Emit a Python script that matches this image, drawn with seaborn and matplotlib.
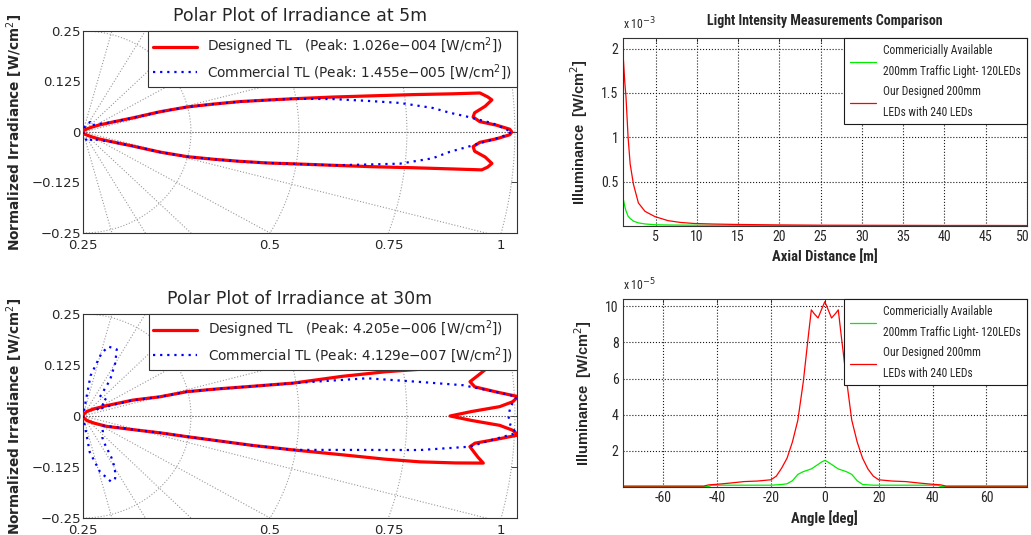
import numpy as np
import pandas as pd
import matplotlib
matplotlib.use('Agg')
import matplotlib.pyplot as plt
import matplotlib.transforms as mtransforms
import seaborn as sns

# --- polar patterns: angle [deg], normalized irradiance ---
ang_5m_designed = [-90, -60, -40, -30, -25, -20, -16.8, -15.6, -14.2, -12.6, -11.3, -10.2, -9.2,
                   -8.1, -7.3, -6.6, -6.1, -5.8, -5.3, -4.7, -3.8, -3.0, -2.3, -1.6, -1.0, -0.4,
                   0, 0.4, 1.0, 1.6, 2.35, 3.0, 3.9, 4.8, 5.3, 6.0, 6.3, 6.9, 7.6, 8.5, 9.6, 10.5,
                   11.7, 12.9, 14.4, 15.7, 16.8, 20, 25, 30, 40, 60, 90]
r_5m_designed = [0, 0.005, 0.012, 0.025, 0.04, 0.07, 0.121, 0.185, 0.249, 0.309, 0.371, 0.433, 0.493,
                 0.585, 0.677, 0.770, 0.861, 0.928, 0.941, 0.950, 0.933, 0.908, 0.904, 0.919, 0.958, 0.988,
                 0.993, 0.988, 0.958, 0.919, 0.904, 0.908, 0.933, 0.950, 0.941, 0.924, 0.861, 0.770, 0.677,
                 0.585, 0.493, 0.433, 0.371, 0.309, 0.249, 0.185, 0.121, 0.07, 0.04, 0.025, 0.012, 0.005, 0]

ang_5m_commercial = [-90, -70, -55, -40, -30, -22, -17, -15.6, -14.2, -12.6, -11.3, -10.2, -9.2, -8.1,
                     -7.0, -6.1, -4.6, -3.3, -2.4, -1.5, -0.7, 0, 1.3, 2.45, 3.2, 4.2, 5.6, 6.7, 8.0,
                     9.6, 10.5, 11.7, 12.9, 14.4, 15.7, 17, 22, 30, 40, 55, 70, 90]
r_5m_commercial = [0, 0.02, 0.03, 0.025, 0.04, 0.06, 0.115, 0.185, 0.249, 0.309, 0.371, 0.433, 0.493, 0.585,
                   0.661, 0.738, 0.812, 0.851, 0.890, 0.930, 0.970, 0.993, 0.949, 0.890, 0.851, 0.812, 0.737,
                   0.661, 0.585, 0.493, 0.433, 0.371, 0.309, 0.249, 0.185, 0.115, 0.06, 0.04, 0.025, 0.03,
                   0.02, 0]

ang_30m_designed = [-90, -70, -50, -35, -25, -16, -13, -11.9, -11.0, -10.4, -9.7, -9.0, -8.6, -8.2, -7.6,
                    -7.1, -6.3, -4.8, -4.2, -3.4, -2.65, -2.0, -1.36, -0.7,
                    0, 0.7, 1.36, 2.0, 2.7, 3.5, 4.5, 5.36, 6.2, 6.9, 7.5, 8.25, 8.8, 9.2, 9.4, 10.5, 12.0,
                    13.9, 14.8, 18.6, 25, 35, 50, 70, 90]
r_30m_designed = [0, 0.005, 0.015, 0.03, 0.06, 0.122, 0.184, 0.246, 0.32, 0.40, 0.493, 0.608, 0.708, 0.788,
                  0.87, 0.934, 0.92, 0.899, 0.91, 0.96, 1.009, 0.995, 0.965, 0.90,
                  0.850, 0.90, 0.965, 0.995, 1.009, 0.96, 0.910, 0.90, 0.92, 0.937, 0.908, 0.808, 0.708,
                  0.608, 0.493, 0.40, 0.32, 0.248, 0.184, 0.122, 0.06, 0.03, 0.015, 0.005, 0]

ang_30m_commercial = [-90, -80, -74, -68, -64, -60, -57, -53, -50, -40, -28, -20, -16, -13, -11.9, -11.0,
                      -10.4, -9.7, -7.2, -6.1, -4.8, -3.5, -2.4, -1.3,
                      0, 1.3, 2.7, 3.5, 4.9, 6.1, 8.0, 9.4, 10.5, 12.0, 13.9, 14.8, 18.6, 22, 25, 30, 35.5,
                      42, 50, 54.6, 60, 64.4, 70.9, 74.4, 80, 90]
r_30m_commercial = [0, 0.09, 0.142, 0.174, 0.17, 0.148, 0.12, 0.08, 0.07, 0.06, 0.05, 0.08, 0.12, 0.184,
                    0.246, 0.32, 0.40, 0.493, 0.664, 0.785, 0.899, 0.95, 1.004, 0.99,
                    0.985, 0.99, 1.005, 0.96, 0.883, 0.785, 0.664, 0.493, 0.40, 0.32, 0.248, 0.184, 0.12,
                    0.07, 0.035, 0.05, 0.067, 0.065, 0.061, 0.108, 0.149, 0.181, 0.18, 0.16, 0.10, 0]

polar_labels = ['Designed TL   (Peak: 1.026e\u2212004 [W/cm$^2$])',
                'Commercial TL (Peak: 1.455e\u2212005 [W/cm$^2$])']
polar_labels_30 = ['Designed TL   (Peak: 4.205e\u2212006 [W/cm$^2$])',
                   'Commercial TL (Peak: 4.129e\u2212007 [W/cm$^2$])']
grid_radii = np.array([0.25, 0.5, 0.75, 1.0])
radius_labels = ['0.25', '0.5', '0.75', '1']

# --- axial distance measurements (x 1e-3 W/cm2) ---
axial_dist = [1, 1.1, 1.25, 1.4, 1.65, 1.9, 2.3, 2.9, 3.7, 4.9, 6.5, 8, 9.7, 12, 15, 20, 25, 30, 35,
              40, 45, 50]
axial_commercial = [0.33, 0.29, 0.22, 0.17, 0.11, 0.085, 0.055, 0.035, 0.023, 0.014, 0.011, 0.01, 0.009,
                    0.008, 0.007, 0.005, 0.004, 0.004, 0.004, 0.003, 0.003, 0.003]
axial_designed = [2.0, 1.85, 1.62, 1.45, 1.0, 0.70, 0.47, 0.26, 0.165, 0.106, 0.06, 0.04, 0.028, 0.022,
                  0.017, 0.012, 0.009, 0.008, 0.007, 0.006, 0.006, 0.005]

# --- angular measurements (x 1e-5 W/cm2) ---
angle_deg = [-75, -60, -45, -43, -42, -40, -35, -30, -25, -20, -18, -16, -14, -12, -10, -8, -6, -5, -4,
             -2.5, -1, 0, 1, 2.5, 4, 5, 6, 8, 10, 12, 14, 16, 18, 20, 25, 30, 35, 40, 42, 43, 45, 60, 75]
angle_commercial = [0.03, 0.03, 0.03, 0.03, 0.1, 0.1, 0.1, 0.1, 0.1, 0.1, 0.12, 0.14, 0.18, 0.35, 0.7,
                    0.85, 0.95, 1.0, 1.1, 1.25, 1.4, 1.47, 1.4, 1.25, 1.1, 1.0, 0.95, 0.85, 0.7, 0.35,
                    0.14, 0.12, 0.1, 0.1, 0.1, 0.1, 0.1, 0.1, 0.1, 0.03, 0.03, 0.03, 0.03]
angle_designed = [0.05, 0.05, 0.05, 0.12, 0.13, 0.15, 0.22, 0.30, 0.33, 0.40, 0.60, 1.05, 1.6, 2.5, 3.7,
                  5.8, 8.5, 9.8, 9.6, 9.35, 9.9, 10.25, 9.9, 9.35, 9.6, 9.8, 8.5, 6.0, 3.7, 2.5, 1.6, 1.0,
                  0.6, 0.4, 0.33, 0.30, 0.22, 0.15, 0.13, 0.12, 0.05, 0.05, 0.05]

meas_labels = ['Commericially Available\n200mm Traffic Light- 120LEDs',
               'Our Designed 200mm\nLEDs with 240 LEDs']

sns.set_style('white')
plt.rcParams['font.family'] = ['DejaVu Sans']
plt.rcParams['xtick.direction'] = 'in'
plt.rcParams['ytick.direction'] = 'in'
narrow = ['Liberation Sans Narrow', 'Noto Sans Condensed', 'Roboto Condensed', 'Liberation Sans']

fig = plt.figure(figsize=(10.31, 5.35), dpi=100)
ax1 = fig.add_axes([0.0805, 0.5645, 0.421, 0.3776])
ax2 = fig.add_axes([0.0805, 0.0318, 0.421, 0.3813])
ax3 = fig.add_axes([0.604, 0.5776, 0.392, 0.3514])
ax4 = fig.add_axes([0.604, 0.0897, 0.392, 0.3514])


def to_xy(ang, r):
    th = np.radians(ang)
    r = np.asarray(r)
    return pd.DataFrame({'x': r * np.cos(th), 'y': r * np.sin(th)})


def polar_panel(ax, ang_d, r_d, ang_c, r_c, labels, title):
    t = np.linspace(-np.pi / 2, np.pi / 2, 300)
    for rr in grid_radii:
        ax.plot(rr * np.cos(t), rr * np.sin(t), ls=':', color='0.62', lw=0.8, zorder=1)
    for a in np.arange(-90, 91, 15):
        c = '0.2' if a == 0 else '0.6'
        ax.plot([0, 1.3 * np.cos(np.radians(a))], [0, 1.3 * np.sin(np.radians(a))],
                ls=':', color=c, lw=0.8, zorder=1)
    d = to_xy(ang_d, r_d)
    c = to_xy(ang_c, r_c)
    sns.lineplot(data=d, x='x', y='y', sort=False, estimator=None, color='#ff0000', lw=2.3,
                 label=labels[0], ax=ax, zorder=3)
    sns.lineplot(data=c, x='x', y='y', sort=False, estimator=None, color='#0000ff', lw=1.6,
                 linestyle=(0, (1, 2.2)), label=labels[1], ax=ax, zorder=4)
    ax.set_xlim(0, 1.005)
    ax.set_ylim(-0.25, 0.25)
    ax.set_xticks(np.sqrt(grid_radii ** 2 - 0.0625))
    ax.set_xticklabels(radius_labels, fontsize=9.5)
    ax.set_yticks([-0.25, -0.125, 0, 0.125, 0.25])
    ax.set_yticklabels(['\u22120.25', '\u22120.125', '0', '0.125', '0.25'], fontsize=9.5)
    ax.tick_params(top=True, right=True, length=4, width=0.6, pad=1.5)
    ax.tick_params(axis='x', pad=4)
    ax.set_xlabel('')
    ax.set_ylabel('Normalized Irradiance [W/cm$^2$]', fontsize=9.8, fontweight='bold', labelpad=5)
    ax.set_title(title, fontsize=12.5, pad=7)
    leg = ax.legend(loc='upper right', borderaxespad=0, fontsize=9.8, handlelength=3.2,
                    fancybox=False, framealpha=1, edgecolor='0.2', labelspacing=0.35,
                    borderpad=0.35)
    leg.get_frame().set_linewidth(0.8)
    for s in ax.spines.values():
        s.set_linewidth(0.8)
        s.set_color('0.2')


polar_panel(ax1, ang_5m_designed, r_5m_designed, ang_5m_commercial, r_5m_commercial,
            polar_labels, 'Polar Plot of Irradiance at 5m')
polar_panel(ax2, ang_30m_designed, r_30m_designed, ang_30m_commercial, r_30m_commercial,
            polar_labels_30, 'Polar Plot of Irradiance at 30m')


def meas_panel(ax, x, green, red, xlim, ylim, xticks, yticks, exp_txt, xlabel):
    df = pd.DataFrame({'x': x, 'green': green, 'red': red})
    sns.lineplot(data=df, x='x', y='green', color='#00ee00', lw=0.9, label=meas_labels[0], ax=ax)
    sns.lineplot(data=df, x='x', y='red', color='#ff0000', lw=0.9, label=meas_labels[1], ax=ax)
    ax.set_xlim(*xlim)
    ax.set_ylim(*ylim)
    ax.set_xticks(xticks)
    ax.set_xticklabels(['%g' % v for v in xticks], family=narrow, fontsize=10)
    ax.set_yticks(yticks)
    ax.set_yticklabels(['%g' % v for v in yticks], family=narrow, fontsize=10)
    ax.grid(True, ls=':', color='0.1', lw=0.8)
    ax.tick_params(top=True, right=True, length=3, width=0.6, pad=3)
    ax.set_xlabel(xlabel, family=narrow, fontsize=10.5, fontweight='bold', labelpad=4)
    ax.set_ylabel('Illuminance  [W/cm$^2$]', family=['Liberation Sans'], fontsize=10.5,
                  fontweight='bold', labelpad=8)
    ax.text(0.0, 1.03, exp_txt, transform=ax.transAxes, family=narrow, fontsize=8.5,
            ha='left', va='bottom')
    leg = ax.legend(loc='upper right', borderaxespad=0, prop={'family': narrow, 'size': 8.3},
                    handlelength=2.3, handletextpad=0.6, fancybox=False, framealpha=1,
                    edgecolor='0.1', labelspacing=0.6, borderpad=0.5)
    for t in leg.get_texts():
        t.set_linespacing(1.8)
    leg.get_frame().set_linewidth(0.8)
    for s in ax.spines.values():
        s.set_linewidth(0.8)
        s.set_color('0.2')


meas_panel(ax3, axial_dist, axial_commercial, axial_designed, (1, 50), (0, 2.12),
           [5, 10, 15, 20, 25, 30, 35, 40, 45, 50], [0.5, 1, 1.5, 2], 'x 10$^{-3}$',
           'Axial Distance [m]')
ax3.set_title('Light Intensity Measurements Comparison', family=narrow, fontsize=10,
              fontweight='bold', pad=9)
meas_panel(ax4, angle_deg, angle_commercial, angle_designed, (-75, 75), (0, 10.4),
           [-60, -40, -20, 0, 20, 40, 60], [2, 4, 6, 8, 10], 'x 10$^{-5}$', 'Angle [deg]')

# keep the last axial tick label inside the canvas
last = ax3.get_xticklabels()[-1]
last.set_transform(last.get_transform() + mtransforms.ScaledTranslation(-4 / 100, 0, fig.dpi_scale_trans))

fig.savefig('out.png', dpi=100)
